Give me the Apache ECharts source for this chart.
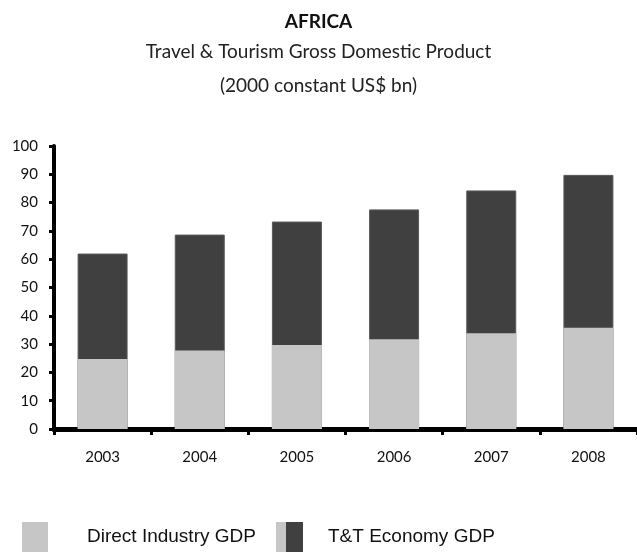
<!DOCTYPE html>
<html>
<head>
<meta charset="utf-8">
<script src="https://cdn.jsdelivr.net/npm/echarts@6/dist/echarts.min.js"></script>
<style>
  html, body { margin: 0; padding: 0; background: #fff; }
  #chart { width: 637px; height: 556px; }
</style>
</head>
<body>
<div id="chart"></div>
<script>
// values (2000 constant US$ bn)
const years = ['2003', '2004', '2005', '2006', '2007', '2008']
const directGdp = [24.7, 27.7, 29.7, 31.7, 33.8, 35.8]
const economyGdp = [62.0, 68.7, 73.3, 77.6, 84.3, 89.8]

const lightGray = '#c6c6c6'
const darkGray = '#404040'

const chart = echarts.init(document.getElementById('chart'))

chart.setOption({
  animation: false,
  title: {
    text: 'AFRICA',
    subtext: 'Travel & Tourism Gross Domestic Product\n(2000 constant US$ bn)',
    left: 'center',
    top: 7,
    itemGap: 4,
    textStyle: { fontFamily: 'Lato', fontSize: 19, fontWeight: 'bold', color: '#111' },
    subtextStyle: { fontFamily: 'Lato', fontSize: 19, color: '#222', lineHeight: 34 }
  },
  legend: [
    {
      data: ['Direct Industry GDP'],
      left: 22,
      top: 522,
      padding: 0,
      icon: 'rect',
      itemWidth: 26,
      itemHeight: 30,
      selectedMode: false,
      itemStyle: { borderWidth: 0 },
      textStyle: { fontFamily: 'Liberation Sans', fontSize: 19, color: '#111', padding: [0, 0, 0, 34] }
    },
    {
      data: ['T&T Economy GDP'],
      left: 286,
      top: 522,
      padding: 0,
      icon: 'rect',
      itemWidth: 17,
      itemHeight: 30,
      selectedMode: false,
      itemStyle: { borderWidth: 0 },
      textStyle: { fontFamily: 'Liberation Sans', fontSize: 19, color: '#111', padding: [0, 0, 0, 20] }
    }
  ],
  // light strip that makes the second legend key two-toned
  graphic: [{
    type: 'rect',
    left: 276,
    top: 522,
    shape: { width: 10, height: 30 },
    style: { fill: lightGray }
  }],
  grid: { left: 54, top: 146, width: 586, height: 283 },
  xAxis: {
    type: 'category',
    data: years,
    axisLine: { lineStyle: { color: '#000', width: 5 } },
    axisTick: { show: true, length: 6, lineStyle: { color: '#000', width: 3 } },
    axisLabel: { fontFamily: 'Lato', fontSize: 15, color: '#111', margin: 21 }
  },
  yAxis: {
    type: 'value',
    min: 0,
    max: 100,
    interval: 10,
    splitLine: { show: false },
    axisLine: { show: true, lineStyle: { color: '#000', width: 4 } },
    axisTick: { show: true, length: 5, lineStyle: { color: '#000', width: 3 } },
    axisLabel: { fontFamily: 'Lato', fontSize: 15, color: '#111', margin: 16 }
  },
  series: [
    {
      name: 'T&T Economy GDP',
      type: 'bar',
      data: economyGdp,
      barWidth: 50,
      itemStyle: { color: darkGray, borderColor: '#5a5a5a', borderWidth: 1 }
    },
    {
      name: 'Direct Industry GDP',
      type: 'bar',
      data: directGdp,
      barWidth: 50,
      barGap: '-100%',
      itemStyle: { color: lightGray }
    }
  ]
})
</script>
</body>
</html>
